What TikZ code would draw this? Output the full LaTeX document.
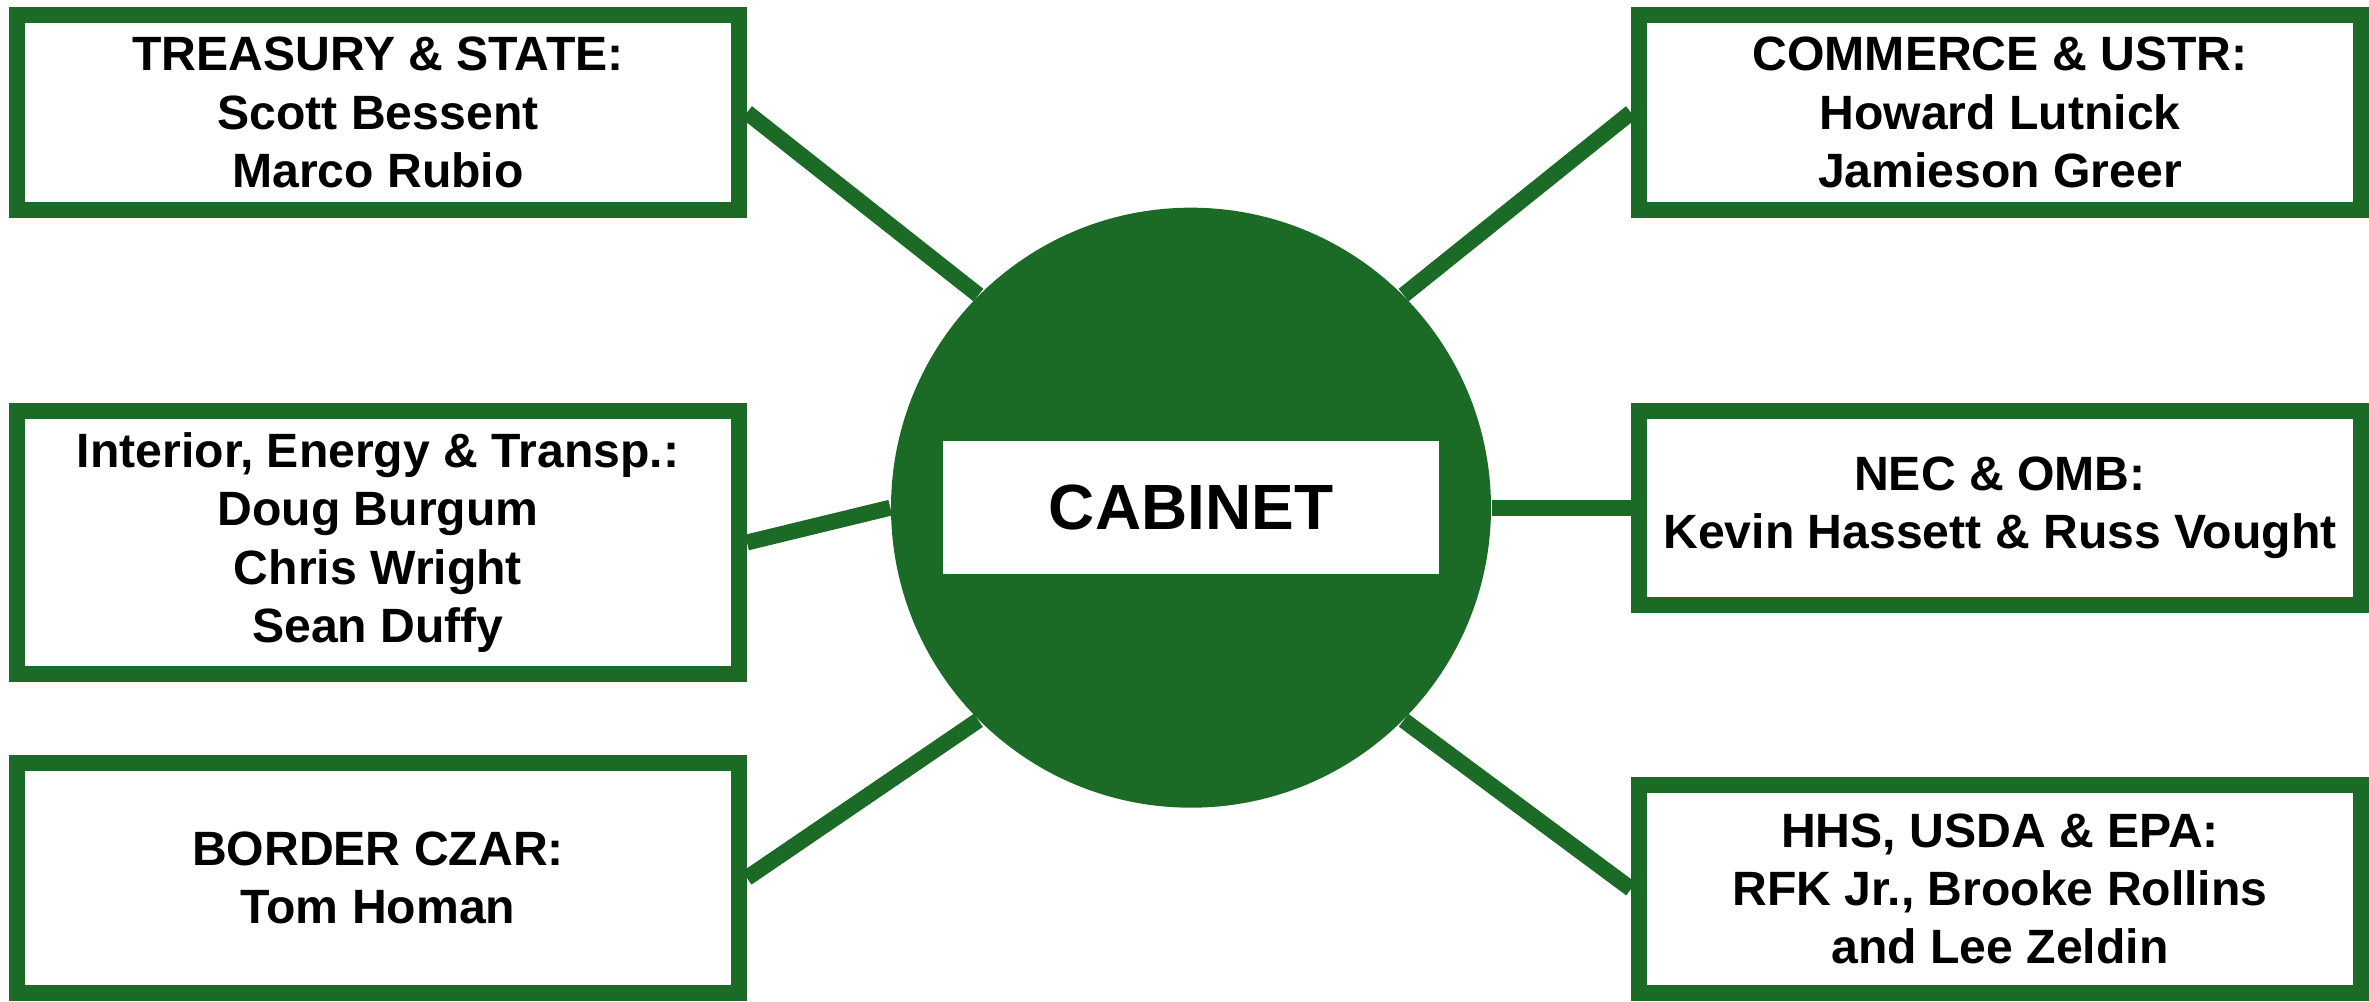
\documentclass[tikz,border=0pt]{standalone}
\usepackage{fontspec}
\setmainfont{Liberation Sans}
\usetikzlibrary{backgrounds}
\definecolor{cabgreen}{RGB}{27,106,37}

\begin{document}
\begin{tikzpicture}
\tikzset{
    member/.style={draw=cabgreen,line width=4.55pt,fill=white,align=center,
        minimum width=7.22cm,inner sep=0pt,
        font=\fontsize{13.7}{16.6}\selectfont\bfseries},
    link/.style={cabgreen,line width=4.55pt}
}
\useasboundingbox (0,0) rectangle (23.69,10.02);

\node[circle,fill=cabgreen,minimum size=6cm,inner sep=0pt] (cabinet) at (11.91,4.943) {};
\node[fill=white,minimum width=4.96cm,minimum height=1.33cm,
      font=\fontsize{18.2}{22}\selectfont\bfseries] (title) at (cabinet) {CABINET};

\node[member,minimum height=1.95cm] (treasury) at (3.78,8.895)
    {TREASURY \& STATE:\\Scott Bessent\\Marco Rubio};
\node[member,minimum height=2.63cm] (interior) at (3.78,4.595)
    {Interior, Energy \& Transp.:\\Doug Burgum\\Chris Wright\\Sean Duffy};
\node[member,minimum height=2.30cm] (border) at (3.78,1.24)
    {BORDER CZAR:\\Tom Homan};
\node[member,minimum height=1.95cm] (commerce) at (20.00,8.895)
    {COMMERCE \& USTR:\\Howard Lutnick\\Jamieson Greer};
\node[member,minimum height=1.94cm] (nec) at (20.00,4.943)
    {NEC \& OMB:\\Kevin Hassett \& Russ Vought};
\node[member,minimum height=2.08cm] (hhs) at (20.00,1.13)
    {HHS, USDA \& EPA:\\RFK Jr., Brooke Rollins\\and Lee Zeldin};

% spokes behind the hub
\begin{scope}[on background layer]
\draw[link] (treasury.east) -- (cabinet.135);
\draw[link] (interior.east) -- (cabinet.west);
\draw[link] (border.east) -- (cabinet.225);
\draw[link] (commerce.west) -- (cabinet.45);
\draw[link] (nec.west) -- (cabinet.east);
\draw[link] (hhs.west) -- (cabinet.315);
\end{scope}

\end{tikzpicture}
\end{document}
